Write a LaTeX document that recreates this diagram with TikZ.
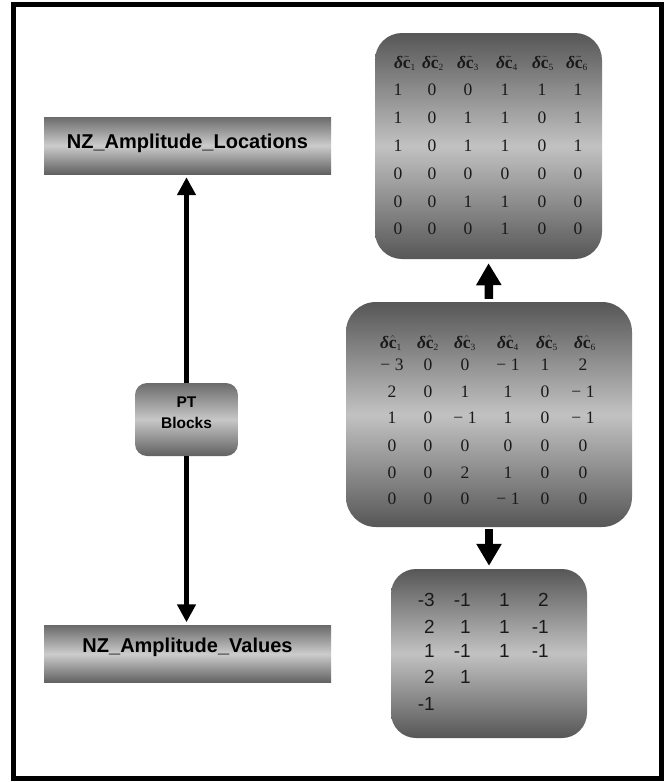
\documentclass[tikz,border=0pt]{standalone}
\usepackage{fontspec}
\setmainfont{Liberation Serif}
\newfontfamily\arialfont{Liberation Sans}
\usetikzlibrary{arrows.meta}

% header symbol: bold delta, accented bold c, small index
\newcommand\dchdr[2]{{\bfseries\itshape δ}\ensuremath{#1{\mbox{\bfseries c}}_{\mbox{\fontsize{9.5}{9.5}\selectfont #2}}}}

\tikzset{
  labelbox/.style={minimum width=287pt, minimum height=57pt, inner sep=0pt,
    top color=black!58, bottom color=black!62, middle color=black!20},
  labeltext/.style={font=\arialfont\bfseries\fontsize{20}{22}\selectfont, inner sep=0pt},
  ptbox/.style={minimum width=103pt, minimum height=73pt, inner sep=0pt,
    rounded corners=12pt,
    top color=black!58, bottom color=black!62, middle color=black!22},
  matbox/.style={inner sep=0pt, top color=black!66, bottom color=black!66, middle color=black!24},
  numtxt/.style={inner sep=0pt, anchor=base, text=black!90, font=\fontsize{17.5}{18}\selectfont},
  valtxt/.style={inner sep=0pt, anchor=base east, text=black!90, font=\arialfont\fontsize{19}{20}\selectfont},
  thinarrow/.style={line width=5.5pt, -{Triangle[length=18pt,width=18pt]}},
  thickarrow/.style={line width=8.5pt, -{Triangle[length=22pt,width=24pt]}},
}

\begin{document}
\begin{tikzpicture}[x=1pt, y=-1pt]
  \useasboundingbox (0,0) rectangle (664,782);
  \fill[white] (0,0) rectangle (664,782);
  % outer frame
  \draw[line width=5pt] (13.5,4.5) rectangle (661.5,778);

  % left column
  \node[labelbox, label={[labeltext, yshift=2.5pt]center:NZ\_Amplitude\_Locations}] (loc) at (187.5,145.5) {};
  \node[labelbox, label={[labeltext, yshift=7pt]center:NZ\_Amplitude\_Values}] (val) at (187.5,654) {};
  \node[ptbox, label={[labeltext, align=center, yshift=6.5pt,
      font=\arialfont\bfseries\fontsize{15.5}{21}\selectfont]center:PT\\Blocks}] (pt) at (186.5,419.5) {};

  \draw[thinarrow, shorten >=3pt] (pt.north) -- (pt.north |- loc.south);
  \draw[thinarrow, shorten >=3pt] (pt.south) -- (pt.south |- val.north);

  % right column boxes
  \node[matbox, rounded corners=27pt, minimum width=227pt, minimum height=226pt] (top) at (488.5,146) {};
  \node[matbox, rounded corners=30pt, minimum width=286pt, minimum height=225pt] (mid) at (489,414.5) {};
  \node[matbox, rounded corners=25pt, minimum width=196pt, minimum height=169pt] (bot) at (489,653.5) {};

  \draw[thickarrow, shorten <=3pt, shorten >=4pt] (mid.north) -- (top.south);
  \draw[thickarrow, shorten <=2pt, shorten >=3pt] (mid.south) -- (bot.north);

  % location flags
  \foreach \hx [count=\c] in {405,433,468,507,543,577}
    \node[numtxt] (top-h\c) at (\hx,68) {\dchdr{\tilde}{\c}};
  \foreach \row [count=\r] in {{1,0,0,1,1,1},{1,0,1,1,0,1},{1,0,1,1,0,1},
                               {0,0,0,0,0,0},{0,0,1,1,0,0},{0,0,0,1,0,0}} {
    \pgfmathsetmacro\ry{{95.5,123.5,151.5,179.5,207.5,234.5}[\r-1]}
    \foreach \v [count=\c] in \row {
      \pgfmathsetmacro\rx{{398,432,468,505,542,578}[\c-1]}
      \node[numtxt] (top-\r-\c) at (\rx,\ry) {\v};
    }
  }

  % coefficient differences
  \foreach \hx [count=\c] in {391,428,465,508,547,585}
    \node[numtxt] (mid-h\c) at (\hx,348) {\dchdr{\hat}{\c}};
  \foreach \row [count=\r] in {{−\;3,0,0,−\;1,1,2},{2,0,1,1,0,−\;1},{1,0,−\;1,1,0,−\;1},
                               {0,0,0,0,0,0},{0,0,2,1,0,0},{0,0,0,−\;1,0,0}} {
    \pgfmathsetmacro\ry{{370.5,397.5,423.5,451.5,478.5,504.5}[\r-1]}
    \foreach \v [count=\c] in \row {
      \pgfmathsetmacro\rx{{392,428,465,508,545,583}[\c-1]}
      \node[numtxt] (mid-\r-\c) at (\rx,\ry) {\v};
    }
  }

  % non-zero values
  \foreach \row [count=\r] in {{-3,-1,1,2},{2,1,1,-1},{1,-1,1,-1},{2,1},{-1}} {
    \pgfmathsetmacro\ry{{606,633,657,683,710}[\r-1]}
    \foreach \v [count=\c] in \row {
      \pgfmathsetmacro\rx{{435,471,510,549}[\c-1]}
      \node[valtxt] (bot-\r-\c) at (\rx,\ry) {\v};
    }
  }
\end{tikzpicture}
\end{document}
